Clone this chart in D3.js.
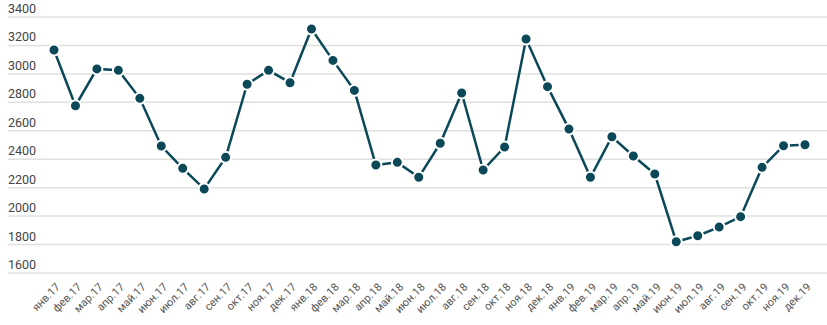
<!DOCTYPE html>
<html>
<head>
<meta charset="utf-8">
<script src="https://cdn.jsdelivr.net/npm/d3@7"></script>
<style>
  body { margin: 0; background: #fff; }
  text { font-family: Roboto, "Noto Sans", sans-serif; }
</style>
</head>
<body>
<div id="chart"></div>
<script>
const months = ["янв", "фев", "мар", "апр", "май", "июн", "июл", "авг", "сен", "окт", "ноя", "дек"];
const years = ["17", "18", "19"];
const labels = years.flatMap(y => months.map(m => m + "." + y));

const values = [
    3168, 2776, 3035, 3025, 2828, 2493, 2336, 2191, 2413, 2927, 3025, 2938,
    3316, 3095, 2884, 2359, 2378, 2273, 2512, 2866, 2324, 2486, 3245, 2910,
    2612, 2273, 2558, 2423, 2296, 1820, 1862, 1923, 1996, 2343, 2495, 2502
];

const yTicks = [1600, 1800, 2000, 2200, 2400, 2600, 2800, 3000, 3200, 3400];

const data = labels.map((l, i) => ({ label: l, value: values[i] }));

const width = 827,
      height = 325,
      margin = ({ top: 17, right: 22, bottom: 52, left: 54 });

let svg = d3.select("#chart")
    .append("svg")
    .attr("width", width)
    .attr("height", height);

let x = d3.scalePoint()
    .domain(labels)
    .range([margin.left, width - margin.right]);

let y = d3.scaleLinear()
    .domain([1600, 3400])
    .range([height - margin.bottom, margin.top]);

// gridlines + labels sitting above each line
let grid = svg.append("g")
    .selectAll("g")
    .data(yTicks)
    .join("g")
    .attr("transform", d => `translate(0,${y(d)})`);

grid.append("line")
    .attr("x1", 8)
    .attr("x2", width)
    .attr("stroke", "#e0e0e0")
    .attr("stroke-width", 1.5);

grid.append("text")
    .attr("x", 8)
    .attr("y", -4)
    .attr("fill", "#444")
    .attr("font-size", 12.5)
    .text(d => d);

// x labels, rotated
svg.append("g")
    .selectAll("text")
    .data(labels)
    .join("text")
    .attr("transform", d => `translate(${x(d) + 4},${height - margin.bottom + 12}) rotate(-45)`)
    .attr("text-anchor", "end")
    .attr("dy", "0.35em")
    .attr("fill", "#555")
    .attr("font-size", 11)
    .text(d => d);

let line = d3.line()
    .x(d => x(d.label))
    .y(d => y(d.value));

svg.append("path")
    .datum(data)
    .attr("fill", "none")
    .attr("stroke", "#0b4858")
    .attr("stroke-width", 2.5)
    .attr("d", line);

svg.append("g")
    .selectAll("circle")
    .data(data)
    .join("circle")
    .attr("cx", d => x(d.label))
    .attr("cy", d => y(d.value))
    .attr("r", 5.5)
    .attr("fill", "#0b4858")
    .attr("stroke", "#fff")
    .attr("stroke-width", 2);
</script>
</body>
</html>
